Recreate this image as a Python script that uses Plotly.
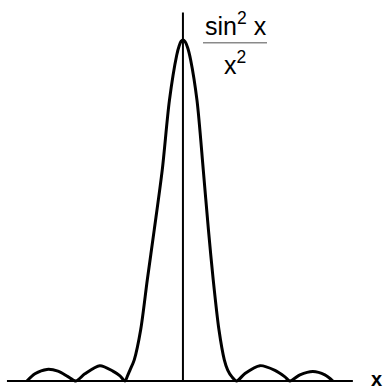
import plotly.graph_objects as go

# Curve values (x in radians, y = sin^2 x / x^2)
x_vals = [-8.75, -8.30, -7.63, -7.01, -6.45, -6.00,
          -5.50, -4.66, -3.93, -3.53, -3.25,
          -3.11, -2.97, -2.73, -2.37, -2.00, -1.61, -1.16, -0.76, -0.35, -0.21, -0.10,
          0.00,
          0.12, 0.26, 0.43, 0.79, 1.14, 1.43, 1.70, 2.02, 2.32, 2.51, 2.75, 3.01,
          3.48, 4.32, 5.16, 5.72, 6.00,
          6.56, 7.29, 7.96, 8.41]
y_vals = [0.000, 0.021, 0.034, 0.029, 0.013, 0.000,
          0.021, 0.045, 0.029, 0.015, 0.000,
          0.015, 0.032, 0.062, 0.150, 0.296, 0.443, 0.619, 0.822, 0.955, 0.983, 0.996,
          1.000,
          0.995, 0.978, 0.942, 0.822, 0.619, 0.443, 0.296, 0.150, 0.062, 0.032, 0.012, 0.000,
          0.022, 0.045, 0.031, 0.012, 0.000,
          0.018, 0.028, 0.018, 0.000]

x_axis_extent = [-9.87, 9.53]
y_axis_extent = [0.0, 1.08]

fig = go.Figure()
fig.add_trace(go.Scatter(x=x_vals, y=y_vals, mode="lines",
                         line=dict(color="black", width=3, shape="spline", smoothing=0.8),
                         hoverinfo="skip", showlegend=False))

fig.update_layout(
    width=383, height=390,
    margin=dict(l=0, r=0, t=0, b=0),
    paper_bgcolor="white", plot_bgcolor="white",
    xaxis=dict(range=[-10.26, 11.22], visible=False, fixedrange=True),
    yaxis=dict(range=[-0.0264, 1.117], visible=False, fixedrange=True),
    shapes=[
        dict(type="line", xref="x", yref="y", x0=x_axis_extent[0], x1=x_axis_extent[1],
             y0=0, y1=0, line=dict(color="black", width=2)),
        dict(type="line", xref="x", yref="y", x0=0, x1=0,
             y0=y_axis_extent[0], y1=y_axis_extent[1], line=dict(color="black", width=2)),
        dict(type="line", xref="paper", yref="paper", x0=203/383, x1=267/383,
             y0=1 - 42.7/390, y1=1 - 42.7/390, line=dict(color="#8a8a8a", width=1.5)),
    ],
    annotations=[
        dict(text="sin<sup>2</sup> x", xref="paper", yref="paper", x=235.5/383, y=1 - 24/390,
             xanchor="center", yanchor="middle", showarrow=False,
             font=dict(family="Liberation Sans, Arial", size=25, color="black")),
        dict(text="x<sup>2</sup>", xref="paper", yref="paper", x=234.5/383, y=1 - 63.5/390,
             xanchor="center", yanchor="middle", showarrow=False,
             font=dict(family="Liberation Sans, Arial", size=25, color="black")),
        dict(text="<b>x</b>", xref="paper", yref="paper", x=376.5/383, y=1 - 379/390,
             xanchor="center", yanchor="middle", showarrow=False,
             font=dict(family="Liberation Sans, Arial", size=20, color="black")),
    ],
)

fig.write_html("out.html",
               config={"displayModeBar": False, "staticPlot": True},
               post_script="document.body.style.margin='0px';document.body.style.overflow='hidden';")
